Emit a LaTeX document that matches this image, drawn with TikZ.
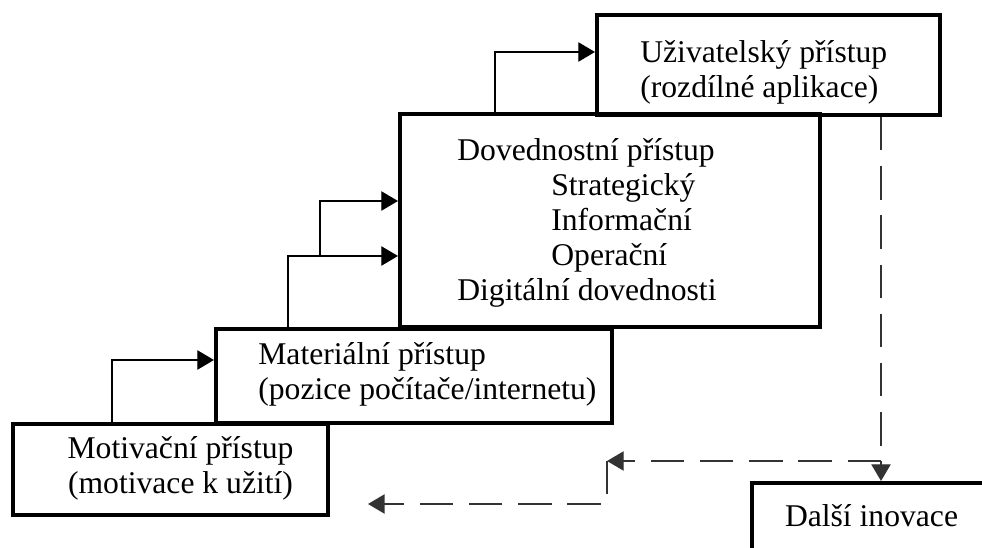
\documentclass[tikz,border=0pt]{standalone}
\usepackage{fontspec}
\setmainfont{Liberation Serif}
\usetikzlibrary{arrows.meta}

\begin{document}
\begin{tikzpicture}[
	box/.style={draw=black,line width=2.3pt,inner sep=0pt},
	txt/.style={font=\fontsize{18}{20}\selectfont,align=left,inner sep=0pt},
	link/.style={line width=0.8pt,-{Triangle[length=9.5pt,width=11pt]}},
	back/.style={link,draw=black!80,dash pattern=on 19pt off 9pt}]

	\useasboundingbox (0,0) rectangle (19.64,10.94);
	\clip (0,0) rectangle (19.64,10.94);

	% the stairs
	\node[box,minimum width=6.3cm,minimum height=1.82cm]  (motiv)    at (3.41, 1.55)  {};
	\node[box,minimum width=7.92cm,minimum height=1.88cm] (material) at (8.28, 3.42)  {};
	\node[box,minimum width=8.4cm,minimum height=4.26cm]  (skill)    at (12.2, 6.53)  {};
	\node[box,minimum width=6.86cm,minimum height=2cm]    (user)     at (15.37, 9.64) {};
	\node[box,minimum width=5cm,minimum height=4cm]       (next)     at (17.54, -0.72) {};

	\node[txt,align=center] (motivtext)    at (3.61, 1.58) {Motivační přístup\\(motivace k užití)};
	\node[txt,anchor=west]  (materialtext) at (5.16, 3.46) {Materiální přístup\\(pozice počítače/internetu)};
	\node[txt,anchor=west]  (skilltext)    at (9.14, 6.48) {Dovednostní přístup\\
		\hspace*{1.88cm}Strategický\\
		\hspace*{1.88cm}Informační\\
		\hspace*{1.88cm}Operační\\
		Digitální dovednosti};
	\node[txt,anchor=west]  (usertext)     at (12.8, 9.5)  {Uživatelský přístup\\(rozdílné aplikace)};
	\node[txt]              (nexttext)     at (17.43, 0.62) {Další inovace};

	% steps up
	\coordinate (fork) at (6.4, 5.82);
	\draw[link] (2.24,0 |- motiv.north) |- ([yshift=0.32cm]material.west);
	\draw[link] (5.76,0 |- material.north) |- (skill.west |- fork);
	\draw[link] (fork) |- ([yshift=0.39cm]skill.west);
	\draw[link] (9.9,0 |- skill.north) |- ([yshift=0.26cm]user.west);

	% way back
	\coordinate (split) at (17.62, 1.72);
	\coordinate (turn)  at (12.14, 1.72);
	\coordinate (ret)   at (7.36, 0.86);
	\draw[back] (split |- user.south) -- (split |- next.north);
	\draw[back] (split) -- (turn);
	\draw[back] (turn) |- (ret);

\end{tikzpicture}
\end{document}
